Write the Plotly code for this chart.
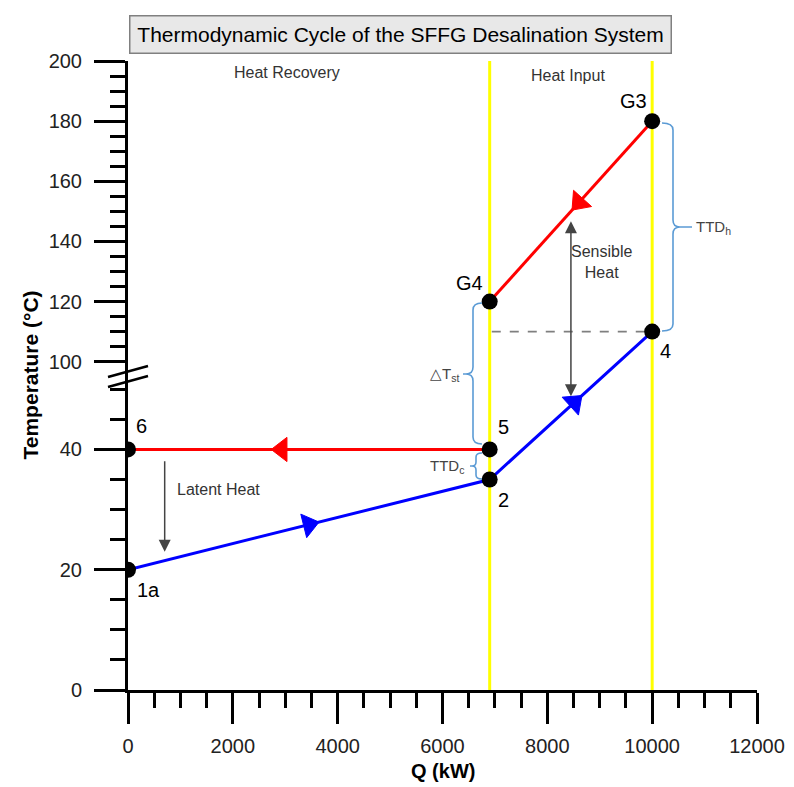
import plotly.graph_objects as go

# ---------------- data ----------------
state_labels = ["1a", "2", "4", "G3", "G4", "5", "6"]
state_q = [0, 6900, 10000, 10000, 6900, 6900, 0]          # kW
state_t = [20, 35, 110, 180, 120, 40, 40]                 # degC

cold_path = ["1a", "2", "4"]          # blue stream
hot_path_gen = ["G3", "G4"]           # red stream (heat input)
hot_path_cond = ["5", "6"]            # red stream (heat recovery)

boundary_q = [6900, 10000]            # yellow section lines
pinch_dash_t = 110                    # dashed reference temperature

x_tick_vals = [0, 2000, 4000, 6000, 8000, 10000, 12000]
y_tick_vals = [0, 20, 40, 100, 120, 140, 160, 180, 200]
y_minor_vals = [5, 10, 15, 25, 30, 35, 45, 50,
                105, 110, 115, 125, 130, 135, 145, 150, 155,
                165, 170, 175, 185, 190, 195]

# ---------------- broken-axis transform ----------------
D_UP = 109.2      # display position of 100 degC


def D(t):
    return 2.0 * t if t <= 75 else (t - 100.0) + D_UP


Y_MAX = D(200)

# pixel geometry of the plot area (for decorations)
L, R, T_, B = 128, 37, 61, 97
W, H = 794, 787
PW, PH = W - L - R, H - T_ - B
SX = PW / 12000.0
SY = PH / Y_MAX


def from_px(px, py):
    return (px - L) / SX, (T_ + PH - py) / SY


def paper_x(px):
    return (px - L) / PW


def paper_y(py):
    return (T_ + PH - py) / PH


idx = {k: i for i, k in enumerate(state_labels)}
fig = go.Figure()

# yellow boundaries
for qb in boundary_q:
    fig.add_shape(type="line", x0=qb, x1=qb, y0=0, y1=Y_MAX, xref="x", yref="y",
                  line=dict(color="#ffff00", width=3), layer="below")

# dashed line at 110
fig.add_shape(type="line", x0=boundary_q[0] + 40, x1=boundary_q[1], y0=D(pinch_dash_t), y1=D(pinch_dash_t),
              line=dict(color="#7f7f7f", width=1.6, dash="dash"), layer="below")


def add_path(names, color):
    fig.add_trace(go.Scatter(x=[state_q[idx[n]] for n in names],
                             y=[D(state_t[idx[n]]) for n in names],
                             mode="lines", line=dict(color=color, width=3),
                             hoverinfo="skip", showlegend=False))


add_path(cold_path, "#0000ff")
add_path(hot_path_gen, "#ff0000")
add_path(hot_path_cond, "#ff0000")

# direction arrowheads (fraction along segment)
arrow_specs = [("1a", "2", 0.5, "#0000ff"), ("2", "4", 0.52, "#0000ff"),
               ("G3", "G4", 0.45, "#ff0000"), ("5", "6", 0.575, "#ff0000")]
for a, b, f, c in arrow_specs:
    x0, y0 = state_q[idx[a]], D(state_t[idx[a]])
    x1, y1 = state_q[idx[b]], D(state_t[idx[b]])
    fig.add_trace(go.Scatter(x=[x0, x0 + f * (x1 - x0)], y=[y0, y0 + f * (y1 - y0)],
                             mode="markers", opacity=1,
                             marker=dict(symbol="triangle-up", size=[0, 21], color=c, opacity=1,
                                         angleref="previous", line=dict(width=1, color=c)),
                             hoverinfo="skip", showlegend=False))

# state points
fig.add_trace(go.Scatter(x=state_q, y=[D(t) for t in state_t], mode="markers",
                         marker=dict(size=16, color="black", opacity=1),
                         hoverinfo="skip", showlegend=False))

FONT = "Liberation Sans, Arial, sans-serif"
annotations = []

# state labels
label_offsets = {"6": (13, 23), "1a": (20, -20), "5": (14, 22), "2": (14, -20),
                 "G4": (-20, 19), "G3": (-19, 20), "4": (13, -19)}
for n in state_labels:
    dx, dy = label_offsets[n]
    annotations.append(dict(x=state_q[idx[n]], y=D(state_t[idx[n]]), text=n, showarrow=False,
                            xshift=dx, yshift=dy, xanchor="center", yanchor="middle",
                            font=dict(family=FONT, size=20, color="black")))

# section names
for txt, px, py in [("Heat Recovery", 287, 72), ("Heat Input", 568, 75)]:
    qx, dy = from_px(px, py)
    annotations.append(dict(x=qx, y=dy, text=txt, showarrow=False, xanchor="center", yanchor="middle",
                            font=dict(family=FONT, size=16, color="#333333")))

# latent heat arrow
annotations.append(dict(x=700, y=D(23), ax=700, ay=D(38.3), axref="x", ayref="y",
                        text="", showarrow=True, arrowhead=2, arrowsize=1.6, arrowwidth=1.5,
                        arrowcolor="#444444"))
annotations.append(dict(x=900, y=D(33.3), text="Latent Heat", showarrow=False,
                        xanchor="left", yanchor="middle",
                        font=dict(family=FONT, size=16, color="#333333")))

# sensible heat double arrow
annotations.append(dict(x=8450, y=D(146.7), ax=8450, ay=D(88), axref="x", ayref="y",
                        text="", showarrow=True, arrowhead=2, startarrowhead=2, arrowside="end+start",
                        arrowsize=1.6, startarrowsize=1.6, arrowwidth=1.5, arrowcolor="#444444"))
annotations.append(dict(x=9030, y=D(133.3), text="Sensible<br>Heat", showarrow=False,
                        xanchor="center", yanchor="middle",
                        font=dict(family=FONT, size=16, color="#333333")))


# braces
def brace(x0, ytop, ybot, xv, ym, xt, r):
    s = 1 if xv > x0 else -1
    pts = [("M", x0, ytop), ("Q", xv, ytop, xv, ytop + r), ("L", xv, ym - r),
           ("Q", xv, ym, xv + s * r, ym), ("L", xt, ym), ("M", xv + s * r, ym),
           ("Q", xv, ym, xv, ym + r), ("L", xv, ybot - r), ("Q", xv, ybot, x0, ybot)]
    out = []
    for p in pts:
        cmd = p[0]
        coords = p[1:]
        cs = []
        for i in range(0, len(coords), 2):
            qx, dy = from_px(coords[i], coords[i + 1])
            cs.append(f"{qx:.2f},{dy:.3f}")
        out.append(cmd + " " + " ".join(cs))
    return " ".join(out)


BR = "#5b9bd5"
for args in [(662, 123, 331, 673, 227, 692, 7),
             (482, 303, 444, 473, 374, 463, 7),
             (482, 453, 479, 476, 466, 470, 4)]:
    fig.add_shape(type="path", path=brace(*args), xref="x", yref="y",
                  line=dict(color=BR, width=1.6))

for txt, px, py, anchor in [("TTD<sub>h</sub>", 694, 227, "left"),
                            ("△T<sub>st</sub>", 461, 374, "right"),
                            ("TTD<sub>c</sub>", 466, 466, "right")]:
    qx, dy = from_px(px, py)
    annotations.append(dict(x=qx, y=dy, text=txt, showarrow=False, xanchor=anchor, yanchor="middle",
                            font=dict(family=FONT, size=15, color="#444444")))

# title box
annotations.append(dict(x=paper_x(400), y=paper_y(34), xref="paper", yref="paper",
                        xanchor="center", yanchor="middle",
                        text="Thermodynamic Cycle of the SFFG Desalination System",
                        showarrow=False, bgcolor="#e8e8e8", bordercolor="#808080", borderwidth=1.5,
                        width=536, height=32, borderpad=2,
                        font=dict(family=FONT, size=21, color="black")))

# axis titles
annotations.append(dict(x=paper_x(30), y=0.5, xref="paper", yref="paper",
                        xanchor="center", yanchor="middle",
                        text="<b>Temperature (°C)</b>", textangle=-90, showarrow=False,
                        font=dict(family=FONT, size=21, color="black")))
annotations.append(dict(x=0.5, y=paper_y(771), xref="paper", yref="paper",
                        xanchor="center", yanchor="middle",
                        text="<b>Q (kW)</b>", showarrow=False,
                        font=dict(family=FONT, size=20, color="black")))

# axis break marks
for y1p, y2p in [(377, 366), (387, 376)]:
    fig.add_shape(type="line", xref="paper", yref="paper",
                  x0=paper_x(108), x1=paper_x(148),
                  y0=paper_y(y1p), y1=paper_y(y2p),
                  line=dict(color="black", width=2.5))

fig.update_layout(
    width=W, height=H, margin=dict(l=L, r=R, t=T_, b=B, autoexpand=False),
    paper_bgcolor="white", plot_bgcolor="white",
    annotations=annotations, showlegend=False,
    xaxis=dict(range=[0, 12000], tickvals=x_tick_vals, ticktext=[str(v) for v in x_tick_vals],
               showgrid=False, zeroline=False, showline=True, linecolor="black", linewidth=3,
               ticks="outside", ticklen=31, tickwidth=3, tickcolor="black",
               ticklabelstandoff=5, automargin=False,
               minor=dict(dtick=500, ticks="outside", ticklen=15, tickwidth=3, tickcolor="black",
                          showgrid=False),
               tickfont=dict(family=FONT, size=20, color="#222222")),
    yaxis=dict(range=[0, Y_MAX], tickvals=[D(v) for v in y_tick_vals],
               ticktext=[str(v) for v in y_tick_vals],
               showgrid=False, zeroline=False, showline=True, linecolor="black", linewidth=3,
               ticks="outside", ticklen=31, tickwidth=3, tickcolor="black",
               ticklabelstandoff=8, automargin=False,
               minor=dict(tickvals=[D(v) for v in y_minor_vals], ticks="outside", ticklen=15,
                          tickwidth=3, tickcolor="black", showgrid=False),
               tickfont=dict(family=FONT, size=20, color="#222222")),
)

fig.write_html("out.html", config={"displayModeBar": False},
               post_script="document.body.style.margin='0px';")
